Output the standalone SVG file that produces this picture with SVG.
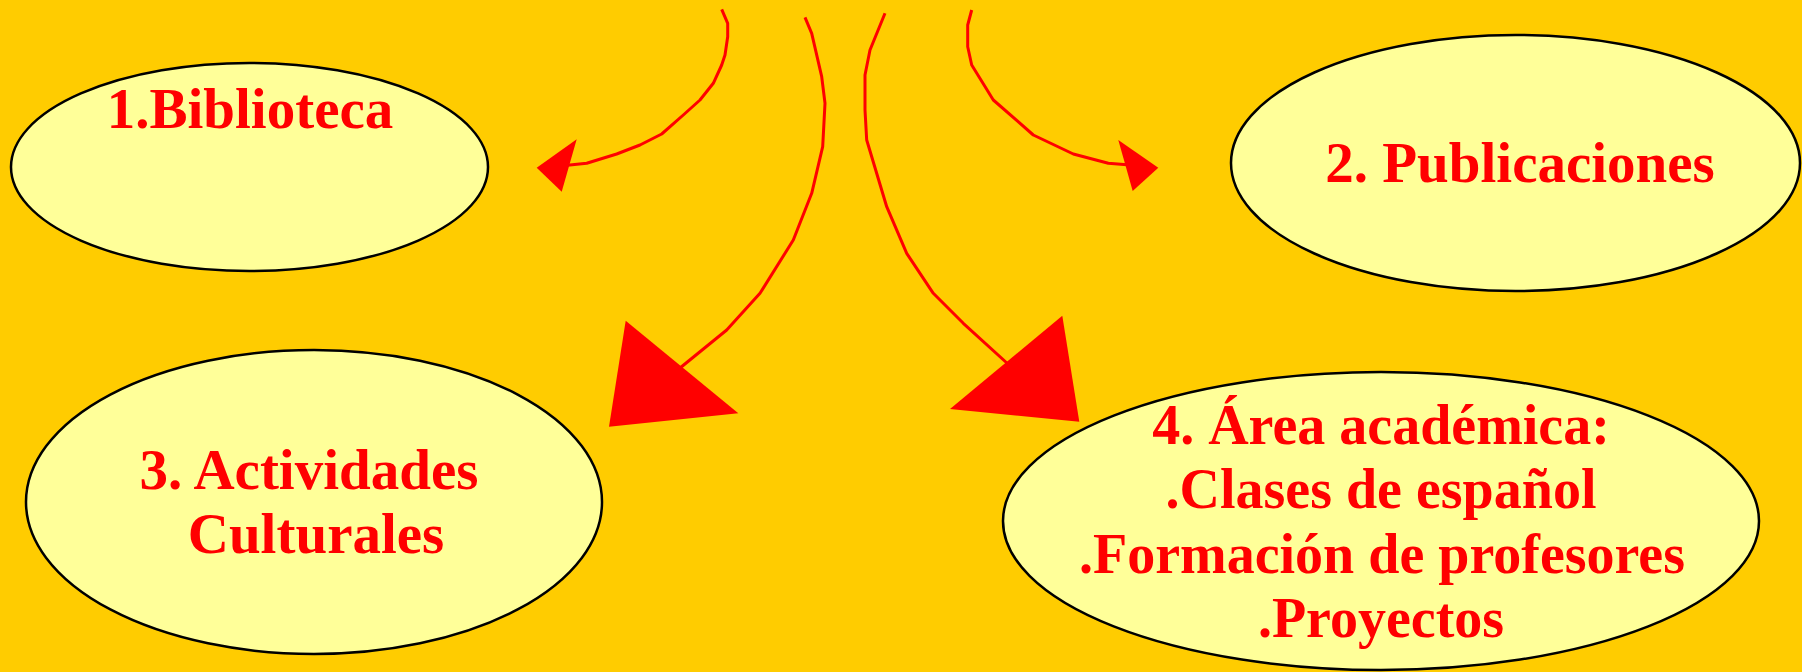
<svg xmlns="http://www.w3.org/2000/svg" width="1802" height="672" viewBox="0 0 1802 672">
<style>
.node{fill:#FFFF99;stroke:#000;stroke-width:2.5}
.lbl{font-family:"Liberation Serif","Times New Roman",serif;font-weight:bold;fill:#FF0000;text-anchor:middle}
.line{fill:none;stroke:#FF0000;stroke-width:3;stroke-linejoin:round}
.head{fill:#FF0000;stroke:none}
</style>
<rect x="0" y="0" width="1802" height="672" fill="#FFCC00"/>
<g id="connectors">
<polyline class="line" points="721.7,9.3 727.7,23.3 727.7,36.7 725,55 721.7,65 713.3,83.3 700,100 683.3,115 661.7,134 640,145 616.7,154 586.7,163.3 565,165.5"/>
<polygon class="head" points="536.7,167.7 576.7,139.3 561.7,191.7"/>
<polyline class="line" points="971.7,10 967.7,25 967.7,46.7 971.7,65 993.3,100 1033.3,135 1073.3,154 1108.3,163.3 1130,165"/>
<polygon class="head" points="1118.3,140 1158.3,167.7 1132.7,191"/>
<polyline class="line" points="805,17.3 811.7,33.3 821.7,76.7 825,103.3 822.7,146.7 811.7,193.3 793.3,240 760,293.3 726.7,330 680,368"/>
<polygon class="head" points="625.7,320.7 738.3,413.3 609,426.7"/>
<polyline class="line" points="885,13.3 870,50 865,75 865,110 866.7,140 886.7,206.7 906.7,253.3 933.3,293.3 963.3,323.3 1008,364"/>
<polygon class="head" points="1062.3,315.7 950,409 1079.3,421.7"/>
</g>
<g id="node1">
<ellipse class="node" cx="249.5" cy="167" rx="238.5" ry="104"/>
<text class="lbl" x="250" y="128" font-size="57">1.Biblioteca</text>
</g>
<g id="node2">
<ellipse class="node" cx="1515.5" cy="163" rx="284.5" ry="128"/>
<text class="lbl" x="1520" y="182" font-size="57">2. Publicaciones</text>
</g>
<g id="node3">
<ellipse class="node" cx="314" cy="502" rx="288" ry="152"/>
<text class="lbl" x="309" y="489" font-size="57">3. Actividades</text>
<text class="lbl" x="316" y="553" font-size="57">Culturales</text>
</g>
<g id="node4">
<ellipse class="node" cx="1381" cy="521" rx="378" ry="149"/>
<text class="lbl" x="1381" y="444" font-size="56">4. Área académica:</text>
<text class="lbl" x="1381" y="508" font-size="56">.Clases de español</text>
<text class="lbl" x="1382" y="573" font-size="56">.Formación de profesores</text>
<text class="lbl" x="1381" y="637" font-size="56">.Proyectos</text>
</g>
</svg>
